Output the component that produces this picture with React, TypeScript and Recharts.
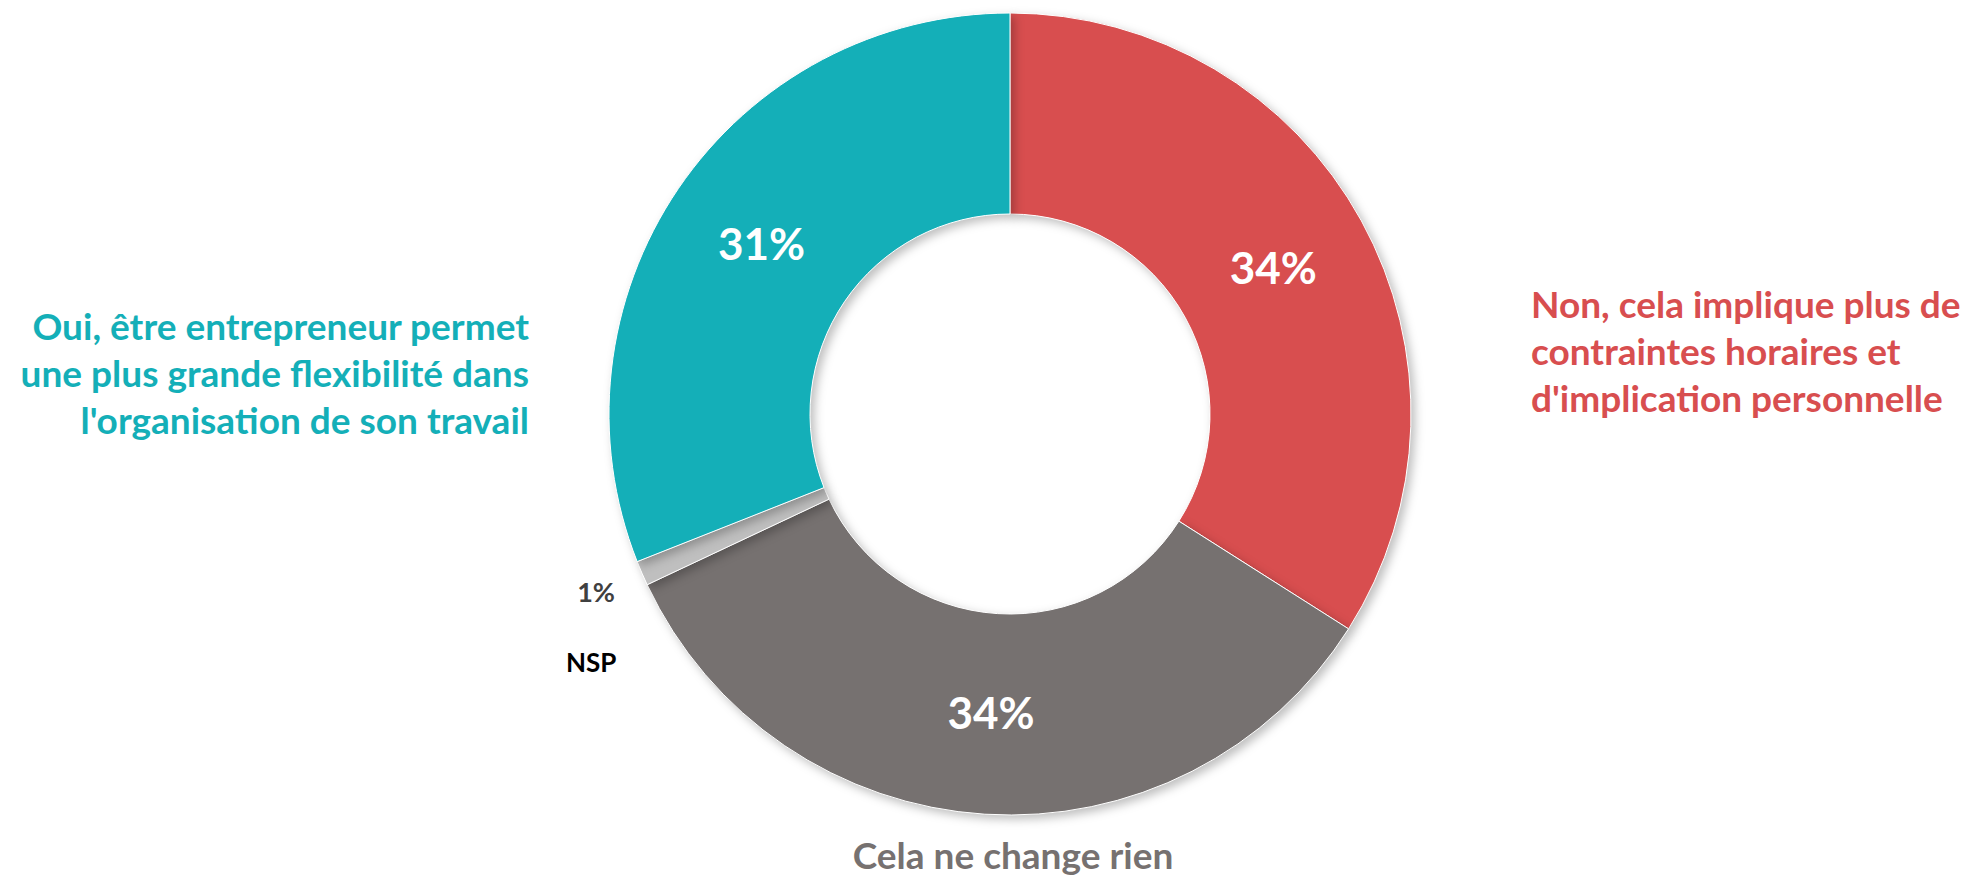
import React from 'react';
import { PieChart, Pie, Cell } from 'recharts';

const categories = [
  'Non, cela implique plus de contraintes horaires et d\'implication personnelle',
  'Cela ne change rien',
  'NSP',
  'Oui, être entrepreneur permet une plus grande flexibilité dans l\'organisation de son travail',
];
const values = [34, 34, 1, 31];
const sliceColors = ['#D84E4F', '#767170', '#BFBFBF', '#14AFB8'];
const nameLines = [
  ['Non, cela implique plus de', 'contraintes horaires et', "d'implication personnelle"],
  ['Cela ne change rien'],
  ['NSP'],
  ['Oui, être entrepreneur permet', 'une plus grande flexibilité dans', "l'organisation de son travail"],
];

const chartData = categories.map((name, i) => ({ name, value: values[i] }));

const FONT = "Lato, 'Open Sans', sans-serif";
const RAD = Math.PI / 180;

const renderLabel = (props: any) => {
  const { cx, cy, midAngle, innerRadius, outerRadius, index, value } = props;
  const lines = nameLines[index];
  const color = sliceColors[index];
  const cos = Math.cos(-midAngle * RAD);
  const sin = Math.sin(-midAngle * RAD);

  if (index === 2) {
    // small slice: value and name outside
    const r = outerRadius + 50;
    const x = cx + r * cos;
    const y = cy + r * sin;
    return (
      <g>
        <text x={x} y={y + 9} textAnchor="middle" fontFamily={FONT} fontWeight={700} fontSize={27} fill="#404040">
          {value}%
        </text>
        <text x={x - 5} y={y + 79} textAnchor="middle" fontFamily={FONT} fontWeight={700} fontSize={26} fill="#000">
          {lines[0]}
        </text>
      </g>
    );
  }

  const r = (innerRadius + outerRadius) / 2;
  const px = cx + r * cos;
  const py = cy + r * sin;

  let nameBlock: React.ReactNode = null;
  if (index === 0) {
    nameBlock = lines.map((l, i) => (
      <text key={i} x={cx + outerRadius + 120} y={cy - 96 + i * 47} textAnchor="start"
        fontFamily={FONT} fontWeight={700} fontSize={37} fill={color}>{l}</text>
    ));
  } else if (index === 1) {
    nameBlock = (
      <text x={cx + 3} y={cy + 455} textAnchor="middle" fontFamily={FONT} fontWeight={700} fontSize={37} fill={color}>
        {lines[0]}
      </text>
    );
  } else {
    nameBlock = lines.map((l, i) => (
      <text key={i} x={cx - outerRadius - 80} y={cy - 74 + i * 47} textAnchor="end"
        fontFamily={FONT} fontWeight={700} fontSize={37} fill={color}>{l}</text>
    ));
  }

  return (
    <g>
      <text x={px} y={py + 15} textAnchor="middle" fontFamily={FONT} fontWeight={700} fontSize={44} fill="#fff">
        {value}%
      </text>
      {nameBlock}
    </g>
  );
};

export default function App() {
  return (
    <div style={{ width: 1976, height: 882, background: '#fff' }}>
      <style>{`body{margin:0} .recharts-sector{filter:drop-shadow(4px 4px 5px rgba(0,0,0,0.25));}`}</style>
      <PieChart width={1976} height={882}>
        <Pie
          data={chartData}
          dataKey="value"
          nameKey="name"
          cx={1005}
          cy={409}
          innerRadius={200}
          outerRadius={401}
          startAngle={90}
          endAngle={-270}
          stroke="#fff"
          strokeWidth={1}
          label={renderLabel}
          labelLine={false}
          isAnimationActive={false}
        >
          {chartData.map((d, i) => (
            <Cell key={d.name} fill={sliceColors[i]} />
          ))}
        </Pie>
      </PieChart>
    </div>
  );
}
